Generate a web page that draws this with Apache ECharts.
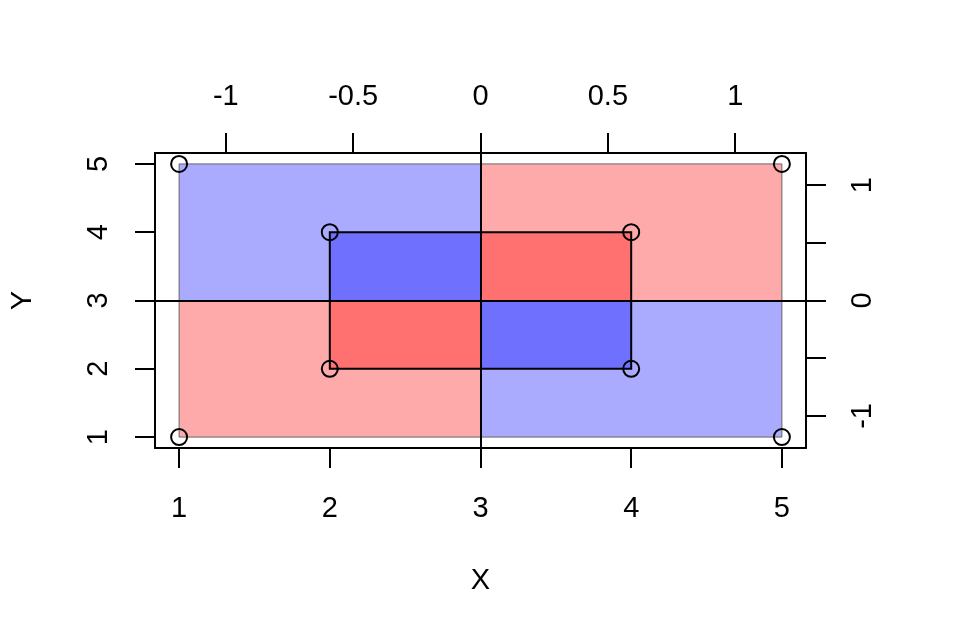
<!DOCTYPE html>
<html>
<head>
<meta charset="utf-8">
<script src="https://cdn.jsdelivr.net/npm/echarts@6/dist/echarts.min.js"></script>
<style>html,body{margin:0;padding:0;background:#fff}#c{width:960px;height:640px}</style>
</head>
<body>
<div id="c"></div>
<script>
// ---- data ----
const pointX = [1, 1, 5, 5, 2, 2, 4, 4];
const pointY = [1, 5, 1, 5, 2, 4, 2, 4];
// quadrant rectangles: outer (light) then inner (dark)
const rectX0 = [1, 3, 1, 3, 2, 3, 2, 3];
const rectX1 = [3, 5, 3, 5, 3, 4, 3, 4];
const rectY0 = [3, 3, 1, 1, 3, 3, 2, 2];
const rectY1 = [5, 5, 3, 3, 4, 4, 3, 3];
const rectSign = ['neg', 'pos', 'pos', 'neg', 'neg', 'pos', 'pos', 'neg'];
const rectLevel = ['outer', 'outer', 'outer', 'outer', 'inner', 'inner', 'inner', 'inner'];
const innerBox = [2, 4, 2, 4]; // x0, x1, y0, y1
const centerX = 3, centerY = 3;
const xTicks = [1, 2, 3, 4, 5];
const yTicks = [1, 2, 3, 4, 5];
const topTicks = [-1, -0.5, 0, 0.5, 1];
const rightTicks = [-1, -0.5, 0, 0.5, 1];
const rightLabels = [-1, 0, 1];
const xRange = [0.84, 5.16];
const yRange = [0.84, 5.16];
// standard deviation of x (and y) values -> standardized secondary axes
const sdX = Math.sqrt(pointX.reduce((s, v) => s + (v - centerX) ** 2, 0) / (pointX.length - 1));
const sdY = Math.sqrt(pointY.reduce((s, v) => s + (v - centerY) ** 2, 0) / (pointY.length - 1));

const colors = {
  outer: { pos: '#FFAAAA', neg: '#AAAAFF' },
  inner: { pos: '#FF7070', neg: '#7070FF' }
};

const FONT = '"Liberation Sans", Arial, Helvetica, sans-serif';
const lbl = { color: '#000', fontSize: 29, fontFamily: FONT };

const rectData = rectX0.map((v, i) => [v, rectX1[i], rectY0[i], rectY1[i], i]);

const chart = echarts.init(document.getElementById('c'), null, { renderer: 'canvas' });
chart.setOption({
  animation: false,
  backgroundColor: '#fff',
  grid: { left: 154, right: 154, top: 153, bottom: 192, show: false },
  xAxis: [
    {
      type: 'value', position: 'bottom', min: xRange[0], max: xRange[1],
      name: 'X', nameLocation: 'middle', nameGap: 118,
      nameTextStyle: { color: '#000', fontSize: 29, fontFamily: FONT },
      axisLine: { show: true, onZero: false, lineStyle: { color: '#000', width: 2 } },
      axisTick: { show: true, length: 20, customValues: xTicks, lineStyle: { color: '#000', width: 2 } },
      axisLabel: Object.assign({ customValues: xTicks, margin: 46 }, lbl),
      splitLine: { show: false }
    },
    {
      type: 'value', position: 'top',
      min: (xRange[0] - centerX) / sdX, max: (xRange[1] - centerX) / sdX,
      axisLine: { show: true, onZero: false, lineStyle: { color: '#000', width: 2 } },
      axisTick: { show: true, length: 20, customValues: topTicks, lineStyle: { color: '#000', width: 2 } },
      axisLabel: Object.assign({ customValues: topTicks, margin: 42 }, lbl),
      splitLine: { show: false }
    }
  ],
  yAxis: [
    {
      type: 'value', position: 'left', min: yRange[0], max: yRange[1],
      name: 'Y', nameLocation: 'middle', nameGap: 118, nameRotate: 90,
      nameTextStyle: { color: '#000', fontSize: 29, fontFamily: FONT },
      axisLine: { show: true, onZero: false, lineStyle: { color: '#000', width: 2 } },
      axisTick: { show: true, length: 20, customValues: yTicks, lineStyle: { color: '#000', width: 2 } },
      axisLabel: Object.assign({ customValues: yTicks, margin: 42, rotate: 90 }, lbl),
      splitLine: { show: false }
    },
    {
      type: 'value', position: 'right',
      min: (yRange[0] - centerY) / sdY, max: (yRange[1] - centerY) / sdY,
      axisLine: { show: true, onZero: false, lineStyle: { color: '#000', width: 2 } },
      axisTick: { show: true, length: 20, customValues: rightTicks, lineStyle: { color: '#000', width: 2 } },
      axisLabel: Object.assign({ customValues: rightLabels, margin: 42, rotate: 90 }, lbl),
      splitLine: { show: false }
    }
  ],
  series: [
    {
      type: 'custom', xAxisIndex: 0, yAxisIndex: 0, z: 1,
      data: rectData,
      renderItem: function (params, api) {
        const i = api.value(4);
        const p0 = api.coord([api.value(0), api.value(3)]);
        const p1 = api.coord([api.value(1), api.value(2)]);
        const outer = rectLevel[i] === 'outer';
        return {
          type: 'rect',
          shape: { x: p0[0], y: p0[1], width: p1[0] - p0[0], height: p1[1] - p0[1] },
          style: {
            fill: colors[rectLevel[i]][rectSign[i]],
            stroke: outer ? '#666' : null,
            lineWidth: outer ? 1 : 0
          }
        };
      }
    },
    {
      type: 'custom', xAxisIndex: 0, yAxisIndex: 0, z: 3,
      data: [innerBox],
      renderItem: function (params, api) {
        const p0 = api.coord([api.value(0), api.value(3)]);
        const p1 = api.coord([api.value(1), api.value(2)]);
        return {
          type: 'rect',
          shape: { x: p0[0], y: p0[1], width: p1[0] - p0[0], height: p1[1] - p0[1] },
          style: { fill: null, stroke: '#000', lineWidth: 2 }
        };
      }
    },
    {
      type: 'scatter', xAxisIndex: 0, yAxisIndex: 0, z: 5,
      data: pointX.map((v, i) => [v, pointY[i]]),
      symbol: 'circle', symbolSize: 16,
      itemStyle: { color: 'rgba(0,0,0,0)', borderColor: '#000', borderWidth: 2, opacity: 1 },
      markLine: {
        silent: true, symbol: ['none', 'none'], label: { show: false },
        lineStyle: { color: '#000', width: 2, type: 'solid', opacity: 1 },
        data: [{ xAxis: centerX }, { yAxis: centerY }]
      }
    }
  ]
});
</script>
</body>
</html>
